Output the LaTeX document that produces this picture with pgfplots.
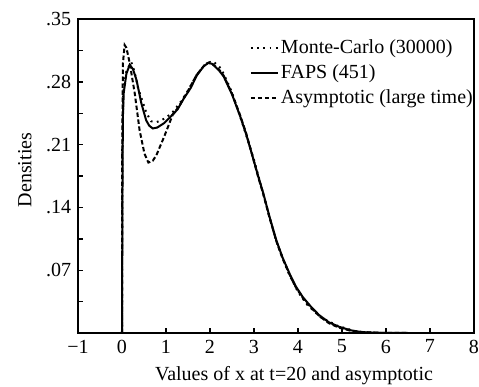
\documentclass[border=0pt]{standalone}
\usepackage{fontspec}
\setmainfont{Liberation Serif}
\usepackage{pgfplots}
\pgfplotsset{compat=1.18}
\pgfplotstableread{
x y
0 0
0.01 0.15
0.02 0.24
0.04 0.268
0.1 0.289
0.175 0.299
0.25 0.294
0.33 0.282
0.44 0.256
0.55 0.237
0.62 0.231
0.70 0.228
0.80 0.229
0.96 0.234
1.1 0.241
1.26 0.249
1.4 0.261
1.56 0.273
1.7 0.287
1.85 0.297
1.96 0.301
2.05 0.300
2.2 0.293
2.31 0.286
2.5 0.266
2.69 0.241
2.82 0.222
2.95 0.200
3.1 0.174
3.21 0.156
3.35 0.130
3.51 0.103
3.65 0.084
3.81 0.066
3.95 0.052
4.11 0.040
4.3 0.029
4.48 0.020
4.7 0.012
4.93 0.007
5.2 0.003
5.45 0.001
5.8 0.0003
6.5 0.0
7.2 0.0
}\faps
\pgfplotstableread{
x y
0 0
0.005 0.20
0.02 0.30
0.06 0.321
0.1 0.318
0.175 0.301
0.29 0.267
0.40 0.226
0.51 0.200
0.60 0.190
0.70 0.192
0.78 0.198
0.96 0.219
1.15 0.243
1.3 0.253
1.5 0.270
1.7 0.288
1.9 0.300
2.0 0.302
2.2 0.294
2.31 0.287
2.5 0.267
2.69 0.242
2.82 0.223
2.95 0.200
3.1 0.173
3.21 0.155
3.35 0.129
3.51 0.102
3.65 0.083
3.81 0.065
3.95 0.051
4.11 0.039
4.3 0.028
4.48 0.019
4.7 0.011
4.93 0.006
5.2 0.0025
5.45 0.001
5.8 0.0003
6.5 0.0
7.2 0.0
}\asym
\pgfplotstableread{
x y
0 0
0.01 0.20
0.03 0.27
0.1 0.292
0.21 0.302
0.28 0.292
0.36 0.274
0.44 0.262
0.55 0.246
0.66 0.236
0.78 0.235
0.89 0.237
1.0 0.240
1.15 0.246
1.34 0.258
1.5 0.270
1.7 0.288
1.9 0.300
2.09 0.302
2.25 0.295
2.46 0.273
2.6 0.254
2.8 0.224
3.0 0.193
3.2 0.157
3.5 0.103
3.8 0.065
4.0 0.046
4.2 0.032
4.5 0.018
4.9 0.008
5.3 0.002
5.6 0.0005
6.0 0.0
7.2 0.0
}\mc
\begin{document}
\fontsize{20}{24}\selectfont
\begin{tikzpicture}
\useasboundingbox (-78pt,-53pt) rectangle (401pt,333pt);
\begin{axis}[
  at={(0pt,0pt)}, anchor=south west,
  scale only axis, width=396pt, height=314pt,
  xmin=-1, xmax=8, ymin=0, ymax=0.35,
  xtick={-1,0,1,2,3,4,5,6,7,8},
  xticklabels={−1,0,1,2,3,4,5,6,7,8},
  ytick={0,0.035,0.07,0.105,0.14,0.175,0.21,0.245,0.28,0.315,0.35},
  yticklabels={,,.07,,.14,,.21,,.28,,.35},
  tick align=inside, xtick pos=bottom, ytick pos=left,
  major tick length=5pt,
  axis line style={line width=1.8pt},
  tick style={line width=1.4pt, black},
  xlabel={Values of x at t=20 and asymptotic},
  ylabel={Densities},
  xlabel style={xshift=18pt},
  ylabel style={yshift=1pt, xshift=6pt},
  legend style={draw=none, fill=none, at={(1,1)}, anchor=north east,
    xshift=3pt, yshift=-14pt, row sep=0pt, column sep=0pt, inner sep=2pt,
    nodes={inner sep=2pt, text height=16pt, text depth=5pt}},
  legend cell align=left,
  legend image code/.code={\draw[#1] (-3pt,0pt) -- (24pt,0pt);},
  every axis plot/.append style={line width=2pt, black},
]
\addplot[dash pattern=on 1.8pt off 4.4pt] table {\mc};
\addlegendentry{Monte-Carlo (30000)}
\addplot[solid] table {\faps};
\addlegendentry{FAPS (451)}
\addplot[dash pattern=on 4.5pt off 2.5pt] table {\asym};
\addlegendentry{Asymptotic (large time)}
\end{axis}
\end{tikzpicture}
\end{document}
